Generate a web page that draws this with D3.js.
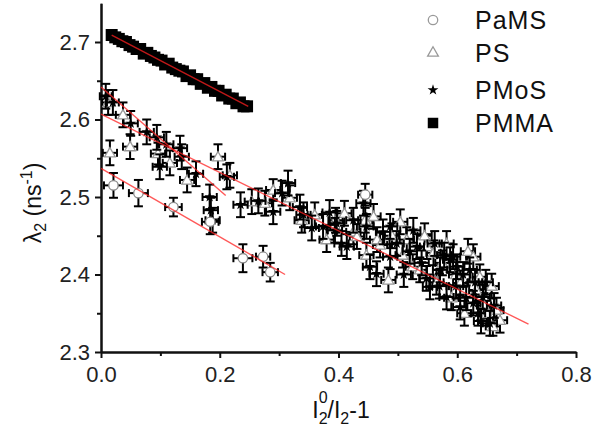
<!DOCTYPE html>
<html><head><meta charset="utf-8">
<script src="https://cdn.jsdelivr.net/npm/d3@7"></script>
<style>body{margin:0;background:#fff}svg{display:block}text{font-family:"Liberation Sans",Arial,sans-serif}</style>
</head><body>
<svg id="c" width="592" height="435"></svg>
<script>
// ---- data ----
const xTicks = [0.0, 0.2, 0.4, 0.6, 0.8];
const xTickLabels = ["0.0", "0.2", "0.4", "0.6", "0.8"];
const xMinorTicks = [0.1, 0.3, 0.5, 0.7];
const yTicks = [2.3, 2.4, 2.5, 2.6, 2.7];
const yTickLabels = ["2.3", "2.4", "2.5", "2.6", "2.7"];
const yMinorTicks = [2.35, 2.45, 2.55, 2.65];
const legendNames = ["PaMS", "PS", "PMoS", "PMMA"];

// [x, y, xErr, yErr]
const pamsPoints = [[0.021,2.515,0.016,0.016],[0.063,2.505,0.016,0.017],[0.122,2.487,0.014,0.012],[0.184,2.468,0.014,0.016],[0.239,2.421,0.016,0.018],[0.273,2.423,0.012,0.014],[0.285,2.403,0.013,0.012],[0.445,2.503,0.012,0.014]];
const psPoints = [[0.012,2.622,0.01,0.016],[0.037,2.606,0.012,0.016],[0.015,2.557,0.012,0.016],[0.049,2.565,0.012,0.016],[0.096,2.556,0.012,0.014],[0.116,2.544,0.012,0.016],[0.145,2.522,0.012,0.016],[0.197,2.552,0.012,0.016],[0.217,2.528,0.012,0.016],[0.254,2.494,0.012,0.016],[0.276,2.492,0.012,0.016],[0.29,2.509,0.012,0.014],[0.318,2.499,0.012,0.016],[0.338,2.47,0.012,0.016],[0.36,2.477,0.012,0.016],[0.38,2.445,0.012,0.016],[0.395,2.47,0.012,0.016],[0.41,2.479,0.012,0.016],[0.425,2.455,0.012,0.016],[0.431,2.449,0.012,0.016],[0.445,2.47,0.012,0.016],[0.459,2.475,0.012,0.016],[0.447,2.425,0.012,0.016],[0.465,2.445,0.012,0.016],[0.47,2.438,0.012,0.016],[0.484,2.393,0.012,0.016],[0.49,2.45,0.012,0.016],[0.504,2.468,0.012,0.016],[0.508,2.425,0.012,0.016],[0.515,2.445,0.012,0.016],[0.525,2.41,0.012,0.016],[0.537,2.406,0.012,0.016],[0.545,2.45,0.012,0.016],[0.549,2.436,0.012,0.016],[0.56,2.428,0.012,0.016],[0.565,2.39,0.012,0.016],[0.575,2.415,0.012,0.016],[0.582,2.44,0.012,0.016],[0.59,2.37,0.012,0.016],[0.598,2.4,0.012,0.016],[0.605,2.389,0.012,0.016],[0.612,2.35,0.012,0.016],[0.618,2.43,0.012,0.016],[0.627,2.423,0.012,0.016],[0.632,2.38,0.012,0.016],[0.638,2.397,0.012,0.016],[0.645,2.36,0.012,0.016],[0.65,2.35,0.012,0.016],[0.658,2.385,0.012,0.016],[0.666,2.354,0.012,0.016],[0.672,2.341,0.012,0.016],[0.66,2.333,0.012,0.012]];
const pmosPoints = [[0.008,2.630,0.01,0.016],[0.02,2.622,0.01,0.016],[0.05,2.595,0.012,0.016],[0.077,2.584,0.012,0.016],[0.094,2.577,0.012,0.016],[0.11,2.568,0.012,0.016],[0.133,2.563,0.012,0.016],[0.136,2.552,0.012,0.016],[0.099,2.539,0.012,0.016],[0.16,2.53,0.012,0.016],[0.183,2.500,0.012,0.016],[0.185,2.483,0.012,0.016],[0.188,2.47,0.012,0.016],[0.212,2.526,0.012,0.016],[0.235,2.49,0.012,0.016],[0.265,2.495,0.012,0.016],[0.29,2.481,0.012,0.016],[0.305,2.505,0.012,0.016],[0.315,2.518,0.012,0.016],[0.335,2.487,0.012,0.016],[0.341,2.477,0.012,0.016],[0.355,2.46,0.012,0.016],[0.374,2.462,0.012,0.016],[0.385,2.48,0.012,0.016],[0.394,2.457,0.012,0.016],[0.397,2.466,0.012,0.016],[0.405,2.44,0.012,0.016],[0.414,2.436,0.012,0.016],[0.425,2.47,0.012,0.016],[0.442,2.492,0.012,0.016],[0.447,2.462,0.012,0.016],[0.453,2.41,0.012,0.016],[0.464,2.401,0.012,0.016],[0.475,2.455,0.012,0.016],[0.487,2.462,0.012,0.016],[0.487,2.423,0.012,0.016],[0.498,2.44,0.012,0.016],[0.51,2.4,0.012,0.016],[0.52,2.43,0.012,0.016],[0.526,2.457,0.012,0.016],[0.532,2.436,0.012,0.016],[0.54,2.415,0.012,0.016],[0.548,2.395,0.012,0.016],[0.554,2.384,0.012,0.016],[0.562,2.44,0.012,0.016],[0.571,2.406,0.012,0.016],[0.578,2.425,0.012,0.016],[0.582,2.371,0.012,0.016],[0.588,2.419,0.012,0.016],[0.593,2.423,0.012,0.016],[0.598,2.385,0.012,0.016],[0.605,2.358,0.012,0.016],[0.61,2.4,0.012,0.016],[0.615,2.37,0.012,0.016],[0.621,2.406,0.012,0.016],[0.627,2.363,0.012,0.016],[0.635,2.35,0.012,0.016],[0.643,2.371,0.012,0.016],[0.648,2.39,0.012,0.016],[0.655,2.337,0.012,0.016],[0.662,2.36,0.012,0.016],[0.57,2.385,0.012,0.016],[0.6,2.41,0.012,0.016],[0.63,2.39,0.012,0.016],[0.64,2.34,0.012,0.016]];
const pmmaX = [0.018,0.024,0.030,0.036,0.042,0.048,0.054,0.060,0.066,0.072,0.078,0.084,0.090,0.096,0.102,0.108,0.114,0.120,0.126,0.132,0.138,0.144,0.150,0.156,0.162,0.168,0.174,0.180,0.186,0.192,0.198,0.204,0.210,0.216,0.222,0.228,0.234,0.240,0.246];
const pmmaY = [2.709,2.706,2.704,2.701,2.700,2.696,2.694,2.691,2.691,2.685,2.686,2.682,2.680,2.677,2.676,2.671,2.672,2.667,2.665,2.663,2.662,2.656,2.657,2.652,2.652,2.646,2.647,2.641,2.642,2.637,2.637,2.631,2.632,2.627,2.627,2.621,2.622,2.617,2.617];
// linear fits: [x0, y0, x1, y1]
const fitLines = [[0.0,2.642,0.21,2.502],[0.0,2.607,0.72,2.336],[0.0,2.537,0.31,2.400],[0.018,2.709,0.248,2.617]];

// ---- drawing ----
const svg = d3.select("#c");
const x = d3.scaleLinear().domain([0, 0.8]).range([101, 576]);
const y = d3.scaleLinear().domain([2.3, 2.75]).range([352, 3.25]);

const xAxis = d3.axisBottom(x).tickValues(xTicks).tickFormat((d,i)=>xTickLabels[i]).tickSize(6).tickSizeOuter(0).tickPadding(8);
const xMinor = d3.axisBottom(x).tickValues(xMinorTicks).tickFormat("").tickSize(4).tickSizeOuter(0);
const yAxis = d3.axisLeft(y).tickValues(yTicks).tickFormat((d,i)=>yTickLabels[i]).tickSize(6).tickSizeOuter(0).tickPadding(5);
const yMinor = d3.axisLeft(y).tickValues(yMinorTicks).tickFormat("").tickSize(4).tickSizeOuter(0);

function styleAxis(g){
  g.selectAll("path,line").attr("stroke","#111").attr("stroke-width",2);
  g.selectAll("text").attr("font-size",22).attr("fill","#222").attr("font-family","'Liberation Sans',Arial,sans-serif");
}
svg.append("g").attr("transform","translate(0,352)").call(xMinor).call(styleAxis);
svg.append("g").attr("transform","translate(0,352)").call(xAxis).call(styleAxis);
svg.append("g").attr("transform","translate(101,0)").call(yMinor).call(styleAxis);
svg.append("g").attr("transform","translate(101,0)").call(yAxis).call(styleAxis);

function errorBars(pts){
  const g = svg.append("g").attr("stroke","#000").attr("stroke-width",2).attr("fill","none");
  pts.forEach(p=>{
    const cx=x(p[0]), cy=y(p[1]);
    const x0=x(p[0]-p[2]), x1=x(p[0]+p[2]);
    const y0=y(p[1]+p[3]), y1=y(p[1]-p[3]);
    g.append("line").attr("x1",cx).attr("x2",cx).attr("y1",y0).attr("y2",y1);
    g.append("line").attr("x1",cx-4.5).attr("x2",cx+4.5).attr("y1",y0).attr("y2",y0);
    g.append("line").attr("x1",cx-4.5).attr("x2",cx+4.5).attr("y1",y1).attr("y2",y1);
    g.append("line").attr("x1",x0).attr("x2",x1).attr("y1",cy).attr("y2",cy);
    g.append("line").attr("x1",x0).attr("x2",x0).attr("y1",cy-4).attr("y2",cy+4);
    g.append("line").attr("x1",x1).attr("x2",x1).attr("y1",cy-4).attr("y2",cy+4);
  });
}
const triSym = d3.symbol().type(d3.symbolTriangle).size(50);
const starSym = d3.symbol().type(d3.symbolStar).size(36);
const circSym = d3.symbol().type(d3.symbolCircle).size(70);
const sqSym = d3.symbol().type(d3.symbolSquare).size(144);

errorBars(psPoints);
svg.append("g").selectAll("path").data(psPoints).join("path")
  .attr("d",triSym).attr("transform",d=>`translate(${x(d[0])},${y(d[1])+1})`)
  .attr("fill","#fff").attr("stroke","#999").attr("stroke-width",1.3);
errorBars(pmosPoints);
svg.append("g").selectAll("path").data(pmosPoints).join("path")
  .attr("d",starSym).attr("transform",d=>`translate(${x(d[0])},${y(d[1])})`)
  .attr("fill","#000");
errorBars(pamsPoints);
svg.append("g").selectAll("path").data(pamsPoints).join("path")
  .attr("d",circSym).attr("transform",d=>`translate(${x(d[0])},${y(d[1])})`)
  .attr("fill","#fff").attr("stroke","#888").attr("stroke-width",1.3);
svg.append("g").selectAll("path").data(pmmaX).join("path")
  .attr("d",sqSym).attr("transform",(d,i)=>`translate(${x(d)},${y(pmmaY[i])})`)
  .attr("fill","#000");

svg.append("g").selectAll("line").data(fitLines).join("line")
  .attr("x1",d=>x(d[0])).attr("y1",d=>y(d[1])).attr("x2",d=>x(d[2])).attr("y2",d=>y(d[3]))
  .attr("stroke","#ff2020").attr("stroke-width",1.4).attr("stroke-opacity",0.75);

// legend
const legSyms = [circSym, triSym, starSym, d3.symbol().type(d3.symbolSquare).size(110)];
const legFill = ["#fff","#fff","#000","#000"];
const legStroke = ["#999","#999","none","none"];
const legY = [20, 53, 90, 123];
legendNames.forEach((n,i)=>{
  svg.append("path").attr("d",legSyms[i]).attr("transform",`translate(433,${legY[i]})`)
    .attr("fill",legFill[i]).attr("stroke",legStroke[i]).attr("stroke-width",1.3);
  svg.append("text").attr("x",475).attr("y",legY[i]).attr("dy","0.36em")
    .attr("font-size",25).attr("letter-spacing",1).attr("fill","#111").text(n);
});

// y label
const yl = svg.append("text").attr("transform","translate(41,203) rotate(-90)")
  .attr("text-anchor","middle").attr("font-size",23).attr("fill","#111");
yl.append("tspan").text("λ");
yl.append("tspan").attr("font-size",16).attr("dy",5).text("2");
yl.append("tspan").attr("dy",-5).text(" (ns");
yl.append("tspan").attr("font-size",16).attr("dy",-9).text("-1");
yl.append("tspan").attr("dy",9).text(")");

// x label
const xl = svg.append("text").attr("x",341).attr("y",418).attr("text-anchor","middle")
  .attr("font-size",23).attr("fill","#111");
xl.append("tspan").text("I");
xl.append("tspan").attr("font-size",16).attr("dy",6).text("2");
xl.append("tspan").attr("font-size",16).attr("dy",-21).attr("dx",-9).text("0");
xl.append("tspan").attr("dy",15).text("/I");
xl.append("tspan").attr("font-size",16).attr("dy",6).text("2");
xl.append("tspan").attr("dy",-6).text("-1");
</script>
</body></html>
